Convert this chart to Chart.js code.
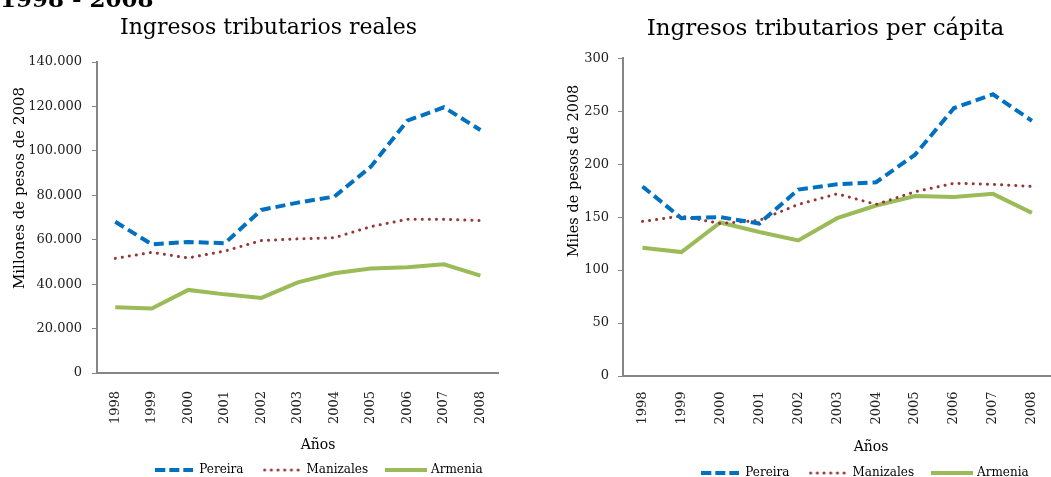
<!DOCTYPE html>
<html>
<head>
<meta charset="utf-8">
<script src="https://cdn.jsdelivr.net/npm/chart.js"></script>
<style>
  body { margin: 0; width: 1051px; height: 477px; overflow: hidden; position: relative; background: #fff; }
  canvas { position: absolute; top: 0; }
  #real { left: 0; }
  #percap { left: 560px; }
</style>
</head>
<body>
<canvas id="real" width="514" height="477"></canvas>
<canvas id="percap" width="503" height="477"></canvas>
<script>
// años
const years = ['1998', '1999', '2000', '2001', '2002', '2003', '2004', '2005', '2006', '2007', '2008'];

// ingresos tributarios reales (millones de pesos de 2008)
const pereiraReal   = [68100, 57900, 59000, 58400, 73400, 76700, 79400, 92900, 113600, 119600, 109400];
const manizalesReal = [51600, 54300, 51800, 54900, 59600, 60400, 60900, 65900, 69200, 69200, 68600];
const armeniaReal   = [29600, 29000, 37400, 35400, 33800, 40800, 44900, 47000, 47600, 48900, 43800];

// ingresos tributarios per capita (miles de pesos de 2008)
const pereiraPc   = [179, 149, 150, 144, 176, 181, 183, 209, 253, 266, 241];
const manizalesPc = [146, 151, 144, 147, 162, 172, 162, 174, 182, 181, 179];
const armeniaPc   = [121, 117, 145, 136, 128, 149, 161, 170, 169, 172, 154];

const serif = '"DejaVu Serif", "Liberation Serif", serif';

// muestra de linea para la leyenda (el legend de Chart.js no pinta el dash con pointStyle)
function legendSample(w, color, width, dash, cap) {
  const c = document.createElement('canvas');
  c.width = w; c.height = 8;
  const g = c.getContext('2d');
  g.strokeStyle = color;
  g.lineWidth = width;
  g.lineCap = cap || 'butt';
  g.setLineDash(dash || []);
  g.beginPath();
  g.moveTo(cap === 'round' ? 2 : 0, 4);
  g.lineTo(w, 4);
  g.stroke();
  return c;
}

// mueve leyenda y titulo a donde los tiene el original
const placeBoxes = {
  id: 'placeBoxes',
  afterLayout(chart, args, opts) {
    const lg = chart.legend;
    if (lg) {
      const dx = opts.legendX - (lg.left + lg.right) / 2;
      const dy = opts.legendY - (lg.top + opts.pad + opts.fontSize / 2);
      lg.left += dx; lg.right += dx;
      lg.top += dy; lg.bottom += dy;
    }
    const tb = chart.titleBlock;
    if (tb) {
      const dx = opts.titleX - (tb.left + tb.right) / 2;
      tb.left += dx; tb.right += dx;
    }
  }
};

// titulos de ejes y encabezado
const extraText = {
  id: 'extraText',
  afterDraw(chart, args, opts) {
    const ctx = chart.ctx;
    ctx.save();
    ctx.fillStyle = '#000';
    ctx.textAlign = 'center';
    ctx.textBaseline = 'middle';
    ctx.font = opts.yTitle.size + 'px ' + serif;
    ctx.save();
    ctx.translate(opts.yTitle.x, opts.yTitle.y);
    ctx.rotate(-Math.PI / 2);
    ctx.fillText(opts.yTitle.text, 0, 0);
    ctx.restore();
    ctx.font = '14px ' + serif;
    ctx.fillText(opts.xTitle.text, opts.xTitle.x, opts.xTitle.y);
    if (opts.heading) {
      ctx.font = 'bold 23px ' + serif;
      ctx.textAlign = 'left';
      ctx.textBaseline = 'alphabetic';
      ctx.fillText(opts.heading, 0, 7);
    }
    ctx.restore();
  }
};

function series(pereira, manizales, armenia) {
  return [
    { label: 'Pereira', data: pereira, borderColor: '#0070C0', backgroundColor: '#0070C0',
      borderWidth: 4, borderDash: [10, 5],
      pointStyle: legendSample(38, '#0070C0', 4, [10, 4]) },
    { label: 'Manizales', data: manizales, borderColor: '#953735', backgroundColor: '#953735',
      borderWidth: 3, borderDash: [0.1, 7], borderCapStyle: 'round',
      pointStyle: legendSample(38, '#953735', 3, [0.1, 6.6], 'round') },
    { label: 'Armenia', data: armenia, borderColor: '#9BBB59', backgroundColor: '#9BBB59',
      borderWidth: 4,
      pointStyle: legendSample(42, '#9BBB59', 4) }
  ];
}

function makeChart(id, cfg) {
  return new Chart(document.getElementById(id), {
    type: 'line',
    data: { labels: years, datasets: series(...cfg.data) },
    plugins: [placeBoxes, extraText],
    options: {
      responsive: false,
      animation: false,
      layout: { padding: 0 },
      elements: { point: { radius: 0 }, line: { tension: 0 } },
      scales: {
        x: {
          offset: true,
          grid: { display: false, drawTicks: false },
          border: { color: '#868686', width: 2 },
          ticks: { color: '#222', font: { family: serif, size: 13 }, maxRotation: 90, minRotation: 90,
            autoSkip: false, padding: cfg.xPad },
          afterFit: s => { s.height = cfg.xHeight; }
        },
        y: {
          min: 0, max: cfg.max,
          grid: { drawOnChartArea: false, drawTicks: true, tickLength: 5, color: '#868686' },
          border: { color: '#868686', width: 2 },
          ticks: { stepSize: cfg.step, color: '#222', font: { family: serif, size: 13 }, padding: cfg.yPad,
            callback: v => String(v).replace(/\B(?=(\d{3})+(?!\d))/g, '.') },
          afterFit: s => { s.width = cfg.yWidth; }
        }
      },
      plugins: {
        title: { display: true, text: cfg.title, color: '#000',
          font: { family: serif, size: cfg.titleSize, weight: 'normal' },
          padding: { top: 15, bottom: cfg.titleBottom } },
        legend: {
          position: 'bottom',
          labels: { usePointStyle: true, pointStyleWidth: 38, color: '#000',
            font: { family: serif, size: 12 }, padding: 19 }
        },
        tooltip: { enabled: false },
        placeBoxes: { legendX: cfg.legendX, legendY: cfg.legendY, pad: 19, fontSize: 12, titleX: cfg.titleX },
        extraText: cfg.text
      }
    }
  });
}

makeChart('real', {
  data: [pereiraReal, manizalesReal, armeniaReal],
  title: 'Ingresos tributarios reales', titleSize: 22, titleX: 268.5,
  max: 140000, step: 20000,
  yWidth: 97, yPad: 10,
  xHeight: 63, xPad: 18, titleBottom: 20.6,
  legendX: 319, legendY: 470,
  text: {
    yTitle: { text: 'Millones de pesos de 2008', x: 20, y: 188, size: 15 },
    xTitle: { text: 'Años', x: 318, y: 445 },
    heading: '1998 - 2008'
  }
});

makeChart('percap', {
  data: [pereiraPc, manizalesPc, armeniaPc],
  title: 'Ingresos tributarios per cápita', titleSize: 23, titleX: 265.5,
  max: 300, step: 50,
  yWidth: 63, yPad: 9,
  xHeight: 60, xPad: 15.5, titleBottom: 15.7,
  legendX: 305, legendY: 473,
  text: {
    yTitle: { text: 'Miles de pesos de 2008', x: 14, y: 171, size: 14.5 },
    xTitle: { text: 'Años', x: 311, y: 447 }
  }
});
</script>
</body>
</html>
